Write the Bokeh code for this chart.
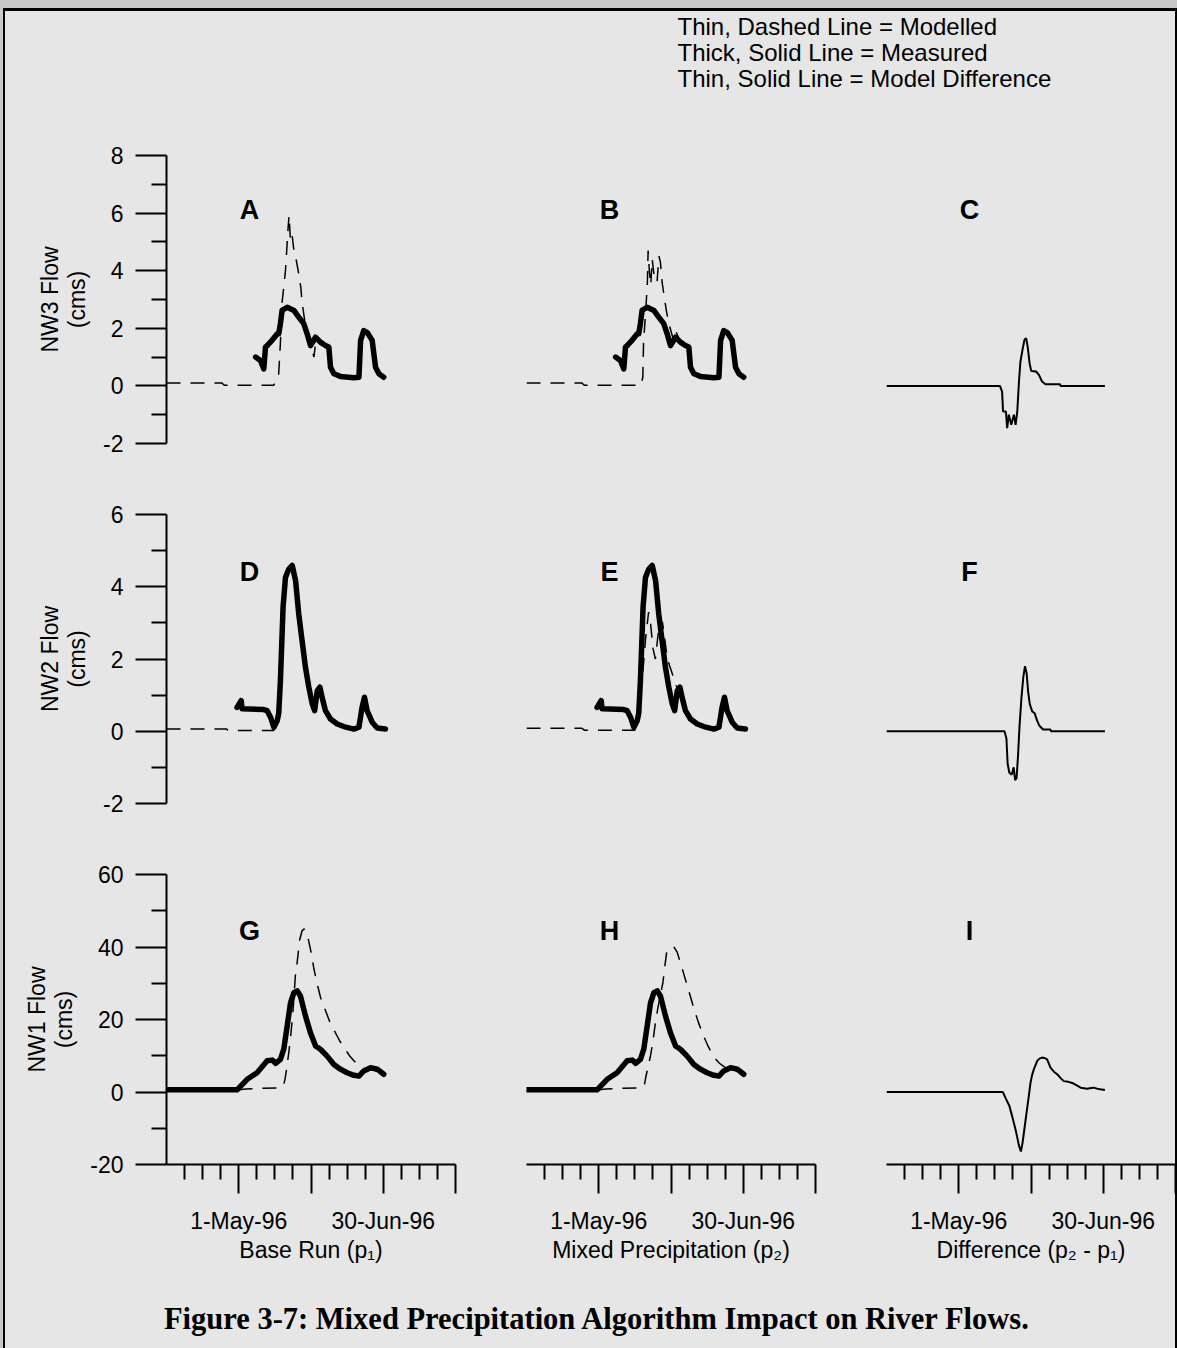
from bokeh.plotting import figure
from bokeh.models import Range1d, FixedTicker, Label, Spacer
from bokeh.layouts import row, column
from bokeh.embed import file_html
from bokeh.resources import INLINE

# ---------------- data (x = day of year 1996) ----------------
X0, X1 = 92, 212          # 1-Apr-96 .. 30-Jul-96
major_days = [122, 152, 182, 212]
minor_days = [99.5, 107, 114.5, 129.5, 137, 144.5, 159.5, 167, 174.5, 189.5, 197, 204.5]
tick_text = {122: "1-May-96", 152: "", 182: "30-Jun-96", 212: ""}

row_labels = ["NW3 Flow\n(cms)", "NW2 Flow\n(cms)", "NW1 Flow\n(cms)"]
col_labels = ["Base Run (p\u2081)", "Mixed Precipitation (p\u2082)", "Difference (p\u2082 - p\u2081)"]
panel_letters = [["A", "B", "C"], ["D", "E", "F"], ["G", "H", "I"]]

y_ranges = [(-2, 8), (-2, 6), (-20, 60)]
y_major = [[-2, 0, 2, 4, 6, 8], [-2, 0, 2, 4, 6], [-20, 0, 20, 40, 60]]
y_minor = [[-1, 1, 3, 5, 7], [-1, 1, 3, 5], [-10, 10, 30, 50]]

# NW3
meas1_day = [129.0, 131.0, 132.4, 133.1, 133.8, 136.0, 138.0, 138.6, 139.3, 140.0, 142.1, 144.9, 146.9,
             149.0, 150.4, 151.8, 153.9, 155.9, 158.0, 159.4, 160.1, 161.5, 164.2, 169.8, 171.9, 172.6,
             173.9, 175.3, 177.4, 178.8, 180.2, 182.2]
meas1_val = [1.00, 0.88, 0.59, 1.35, 1.40, 1.60, 1.81, 1.81, 2.16, 2.62, 2.73, 2.62, 2.39,
             2.16, 1.81, 1.40, 1.69, 1.52, 1.40, 1.35, 0.65, 0.42, 0.33, 0.28, 0.30, 1.58,
             1.92, 1.86, 1.58, 0.65, 0.42, 0.30]
modA_day = [92, 115, 116, 136.5, 138.5, 139.3, 140.0, 141.4, 142.5, 142.9, 143.5, 144.2, 144.9, 145.8,
            146.9, 147.8, 148.3, 149.5, 151.0, 152.0, 153.2, 154.0, 156.0, 158.0, 159.5, 160.5, 162.0,
            166.0, 171.5, 172.4, 174.0, 175.5, 177.5, 178.8, 180.5, 182.2]
modA_val = [0.10, 0.10, 0.02, 0.02, 0.30, 1.50, 2.90, 4.00, 5.50, 5.92, 5.00, 5.20, 4.70, 4.40,
            3.90, 3.40, 2.90, 2.20, 1.70, 1.45, 1.00, 1.55, 1.50, 1.35, 1.20, 0.55, 0.38,
            0.32, 0.30, 1.50, 1.85, 1.75, 1.50, 0.60, 0.45, 0.30]
modB_day = [92, 115, 116, 139.5, 140.3, 140.6, 141.5, 142.2, 142.5, 143.0, 143.6, 144.2, 145.0, 146.2,
            147.0, 147.6, 148.3, 149.0, 150.1, 151.0, 152.0, 153.0, 154.0, 155.5, 158.0, 159.5, 160.5,
            162.0, 166.0, 171.5, 172.4, 174.0, 175.5, 177.5, 178.8, 180.5, 182.2]
modB_val = [0.10, 0.10, 0.02, 0.02, 0.30, 1.50, 2.60, 3.60, 4.70, 4.00, 3.50, 4.40, 3.80, 3.60,
            4.50, 4.30, 3.60, 3.20, 2.60, 2.20, 1.90, 1.60, 1.90, 1.60, 1.40, 1.30, 0.60,
            0.38, 0.30, 0.30, 1.50, 1.85, 1.75, 1.50, 0.60, 0.45, 0.30]
diffC_day = [92, 139.1, 140.0, 140.4, 141.6, 142.1, 142.8, 143.8, 144.9, 145.6, 146.3, 147.0, 147.6,
             148.6, 149.3, 150.0, 150.7, 151.4, 152.1, 154.1, 155.3, 156.6, 158.0, 164.0, 164.3, 182.7]
diffC_val = [0.0, 0.0, -0.20, -0.89, -0.89, -1.47, -1.00, -1.35, -1.00, -1.35, -0.89, 0.15, 0.84,
             1.31, 1.60, 1.66, 1.31, 0.79, 0.52, 0.50, 0.38, 0.15, 0.06, 0.06, 0.0, 0.0]

# NW2
meas2_day = [121.3, 123.0, 123.4, 132.4, 133.8, 135.2, 136.6, 138.0, 138.6, 139.3, 140.4, 141.4, 142.8,
             144.2, 145.6, 146.9, 148.3, 149.7, 151.1, 152.5, 153.5, 154.6, 155.7, 156.6, 158.0, 160.1,
             162.9, 165.6, 169.8, 171.9, 173.2, 174.2, 175.3, 177.4, 179.5, 182.9]
meas2_val = [0.66, 0.85, 0.62, 0.60, 0.57, 0.39, 0.11, 0.30, 0.50, 1.40, 3.43, 4.26, 4.49,
             4.59, 4.17, 3.25, 2.51, 1.77, 1.22, 0.76, 0.57, 1.12, 1.22, 0.94, 0.57, 0.34,
             0.20, 0.13, 0.06, 0.11, 0.66, 0.94, 0.57, 0.25, 0.09, 0.06]
modD_day = [92, 117, 117.5, 136.5, 137.5, 138.6, 139.5, 140.4, 141.4, 142.8, 144.0, 145.6, 146.9,
            148.3, 149.7, 151.1, 152.5, 153.5, 154.6, 155.7, 156.6, 158.0, 160.1, 162.9, 165.6, 169.8,
            171.9, 173.2, 174.2, 175.3, 177.4, 179.5, 182.5]
modD_val = [0.06, 0.06, 0.02, 0.02, 0.15, 0.60, 1.60, 3.30, 4.20, 4.40, 4.50, 4.00, 3.10,
            2.40, 1.70, 1.20, 0.80, 0.65, 1.05, 1.15, 0.90, 0.55, 0.35, 0.22, 0.15, 0.08,
            0.10, 0.60, 0.85, 0.55, 0.25, 0.10, 0.06]
modE_day = [92, 115, 116, 137, 138, 139, 140.5, 141.5, 142.7, 143.5, 144.5, 145.5, 146.5, 147.5,
            148.5, 149.5, 150.5, 151.5, 152.5, 153.5, 154.5, 155.5, 156.6, 158.0, 160.0, 163.0,
            166.0, 170.0, 172.0, 173.2, 174.2, 175.3, 177.4, 179.5, 182.5]
modE_val = [0.08, 0.08, 0.03, 0.03, 0.20, 0.80, 1.80, 2.60, 3.30, 3.00, 2.30, 2.00, 2.60, 3.10,
            3.00, 2.50, 2.00, 1.80, 1.60, 1.40, 1.20, 1.05, 0.90, 0.60, 0.40, 0.25,
            0.15, 0.10, 0.10, 0.60, 0.85, 0.55, 0.25, 0.10, 0.06]
diffF_day = [92, 141.0, 141.8, 142.3, 143.0, 144.0, 144.8, 145.4, 146.0, 146.6, 147.2, 148.0, 148.8,
             149.5, 150.2, 150.8, 151.5, 152.5, 153.5, 154.5, 155.5, 157.0, 160.0, 160.3, 182.7]
diffF_val = [0.0, 0.0, -0.20, -0.90, -1.15, -1.20, -1.00, -1.35, -1.30, -0.70, 0.10, 0.90, 1.50,
             1.80, 1.60, 1.10, 0.75, 0.55, 0.50, 0.30, 0.15, 0.05, 0.05, 0.0, 0.0]

# NW1
meas3_day = [92, 121.3, 125.5, 129.6, 133.8, 135.9, 137.3, 139.3, 140.7, 142.1, 143.5, 144.9, 146.3,
             147.6, 149.7, 151.8, 153.9, 155.9, 158.7, 161.5, 164.2, 167.0, 169.8, 171.9, 173.9,
             176.7, 179.5, 182.2]
meas3_val = [0.6, 0.6, 3.5, 5.3, 8.6, 8.8, 7.9, 9.0, 11.8, 18.2, 24.6, 27.4, 27.9,
             26.5, 21.0, 16.3, 12.7, 11.8, 9.9, 7.6, 6.3, 5.3, 4.6, 4.4, 5.8,
             6.7, 6.3, 4.9]
modG_day = [92, 120, 125, 130, 138, 140.5, 141.2, 141.8, 142.8, 143.5, 144.5, 145.5, 146.3, 147.3,
            148.3, 149.2, 150.2, 151.1, 152.2, 153.2, 154.5, 156.0, 158.0, 160.0, 162.0, 164.0,
            166.0, 168.0, 170.0, 172.0, 174.0, 176.0, 178.0, 180.0, 182.2]
modG_val = [0.4, 0.5, 0.8, 1.0, 1.1, 1.5, 3.5, 6.0, 11.0, 15.0, 22.0, 32.0, 36.0, 42.0,
            44.5, 45.0, 44.0, 41.5, 38.0, 34.0, 30.0, 26.0, 22.5, 19.0, 16.5, 14.0,
            12.0, 10.0, 8.5, 7.3, 6.5, 6.2, 6.0, 5.6, 5.0]
modH_day = [92, 120, 125, 130, 138, 140.5, 141.0, 141.5, 142.5, 143.5, 144.5, 145.5, 146.5, 147.5,
            148.6, 149.5, 150.2, 151.5, 153.0, 154.6, 156.0, 158.0, 160.0, 161.5, 163.5, 165.5,
            167.5, 170.0, 172.0, 174.0, 176.0, 178.0, 180.0, 182.2]
modH_val = [0.4, 0.5, 0.8, 1.0, 1.1, 1.3, 2.0, 4.0, 7.0, 10.0, 14.0, 19.0, 23.0, 26.5,
            30.0, 35.0, 38.5, 39.5, 40.2, 38.5, 35.5, 31.0, 26.5, 23.0, 19.0, 15.5,
            12.5, 9.5, 8.0, 7.0, 6.3, 6.0, 5.6, 5.0]
diffI_day = [92, 140.3, 141.6, 143.0, 144.3, 145.7, 147.0, 147.8, 148.5, 149.3, 150.3, 151.1, 151.8,
             152.5, 153.2, 154.6, 155.5, 156.6, 157.5, 158.7, 160.1, 161.5, 162.9, 164.2, 165.6,
             167.5, 169.1, 171.0, 172.6, 175.3, 177.0, 178.1, 180.0, 182.7]
diffI_val = [0.0, 0.0, -1.9, -3.8, -7.0, -10.7, -14.8, -16.4, -14.0, -10.0, -5.0, -1.1, 2.6,
             4.8, 6.3, 8.6, 9.2, 9.5, 9.4, 9.0, 6.7, 5.6, 4.9, 3.9, 3.0,
             2.8, 2.5, 1.8, 1.2, 0.9, 1.1, 1.2, 0.8, 0.55]

measured = [(meas1_day, meas1_val), (meas2_day, meas2_val), (meas3_day, meas3_val)]
modelled = [[(modA_day, modA_val), (modB_day, modB_val)],
            [(modD_day, modD_val), (modE_day, modE_val)],
            [(modG_day, modG_val), (modH_day, modH_val)]]
difference = [(diffC_day, diffC_val), (diffF_day, diffF_val), (diffI_day, diffI_val)]

legend_lines = ["Thin, Dashed Line = Modelled",
                "Thick, Solid Line = Measured",
                "Thin, Solid Line = Model Difference"]
caption_text = "Figure 3-7: Mixed Precipitation Algorithm Impact on River Flows."

# ---------------- layout / style ----------------
BG = "#e6e6e6"
EDGE = "#c8c8c8"
FONT = "Liberation Sans"
TICK_FS = "23px"
PAGE_W, PAGE_H = 1177, 1348
CONTENT_W = 1170
frame_h = [288, 289, 290]
top_b = 25
bot_b = [46, 46, 106]
col_left_b = [161, 36, 36]
col_right_b = [35, 35, 0]
col_frame_w = [289, 289, 289]
letter_y = [6.1, 4.4, 44.3]
letter_x = 126.5
BGSTYLE = {"background-color": BG}


def style_axis(ax):
    ax.major_tick_in = 0
    ax.minor_tick_in = 0
    ax.axis_line_width = 2
    ax.major_tick_line_width = 2
    ax.minor_tick_line_width = 2
    ax.axis_line_color = "black"
    ax.major_tick_line_color = "black"
    ax.minor_tick_line_color = "black"
    ax.major_label_text_font = FONT
    ax.major_label_text_font_size = TICK_FS
    ax.major_label_text_color = "black"
    ax.axis_label_text_font = FONT
    ax.axis_label_text_font_size = TICK_FS
    ax.axis_label_text_font_style = "normal"
    ax.axis_label_text_color = "black"


def make_panel(r, c):
    fw = col_frame_w[c]
    p = figure(frame_width=fw, frame_height=frame_h[r],
               x_range=Range1d(X0, X1), y_range=Range1d(*y_ranges[r]),
               min_border_left=col_left_b[c], min_border_right=col_right_b[c],
               min_border_top=top_b, min_border_bottom=bot_b[r],
               toolbar_location=None, tools="", output_backend="svg",
               x_axis_location="below" if r == 2 else None,
               y_axis_location="left" if c == 0 else None,
               background_fill_color=None, border_fill_color=None, outline_line_color=None,
               styles=BGSTYLE)
    p.grid.visible = False

    if c == 0:
        ax = p.yaxis[0]
        style_axis(ax)
        ax.ticker = FixedTicker(ticks=y_major[r], minor_ticks=y_minor[r])
        ax.major_label_overrides = {v: str(v) for v in y_major[r]}
        ax.major_tick_out = 31
        ax.minor_tick_out = 15
        ax.major_label_standoff = 12
        ax.axis_label = row_labels[r]
        ax.axis_label_text_line_height = 1.05
        ax.axis_label_standoff = 10
    if r == 2:
        ax = p.xaxis[0]
        style_axis(ax)
        ax.ticker = FixedTicker(ticks=major_days, minor_ticks=minor_days)
        ax.major_label_overrides = tick_text
        ax.major_tick_out = 29
        ax.minor_tick_out = 15
        ax.major_label_standoff = 14
        ax.axis_label = col_labels[c]
        ax.axis_label_standoff = 0

    if c < 2:
        md, mv = modelled[r][c]
        p.line(md, mv, line_color="black", line_width=1.5, line_dash="14 10")
        sd, sv = measured[r]
        p.line(sd, sv, line_color="black", line_width=5.5,
               line_join="round", line_cap="round")
    else:
        dd, dv = difference[r]
        p.line(dd, dv, line_color="black", line_width=2)

    p.add_layout(Label(x=letter_x, y=letter_y[r], text=panel_letters[r][c],
                       text_font=FONT, text_font_style="bold", text_font_size="27px",
                       text_color="black", text_align="center", text_baseline="middle"))
    return p


def text_strip(h):
    f = figure(width=CONTENT_W, height=h, x_range=Range1d(0, CONTENT_W), y_range=Range1d(h, 0),
               min_border=0, toolbar_location=None, tools="", output_backend="svg",
               x_axis_location=None, y_axis_location=None,
               background_fill_color=None, border_fill_color=None, outline_line_color=None,
               styles=BGSTYLE)
    f.grid.visible = False
    return f


top = text_strip(119)
for i, t in enumerate(legend_lines):
    top.add_layout(Label(x=672, y=15 + 26 * i, text=t, text_font=FONT, text_font_size="24px",
                         text_color="black", text_align="left", text_baseline="middle"))

cap = text_strip(78)
cap.add_layout(Label(x=592, y=48, text=caption_text, text_font="Liberation Serif",
                     text_font_style="bold", text_font_size="30.5px", text_color="black",
                     text_align="center", text_baseline="middle"))

rows = [row([make_panel(r, c) for c in range(3)], spacing=0, styles=BGSTYLE) for r in range(3)]

INNER_H = PAGE_H - 8
content = column([Spacer(width=CONTENT_W, height=3, styles={"background-color": "black"}),
                  top] + rows + [cap], spacing=0, styles=BGSTYLE)
body = row([Spacer(width=3, height=INNER_H, styles={"background-color": EDGE}),
            Spacer(width=2, height=INNER_H, styles={"background-color": "black"}),
            content,
            Spacer(width=2, height=INNER_H, styles={"background-color": "black"})], spacing=0,
           styles=BGSTYLE)
layout = column([Spacer(width=PAGE_W, height=8, styles={"background-color": EDGE}), body], spacing=0,
                styles=BGSTYLE)

open("out.html", "w").write(file_html(layout, INLINE, title="Figure 3-7"))
